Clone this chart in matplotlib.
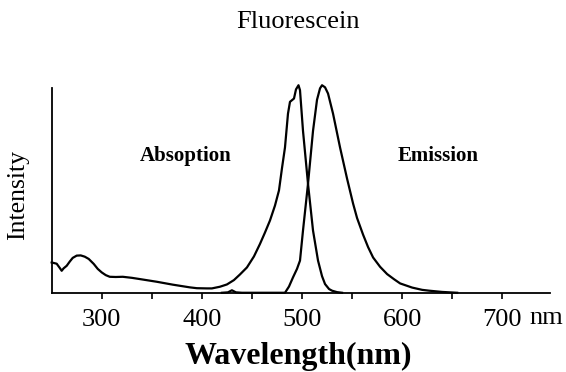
import numpy as np
import matplotlib
matplotlib.use('Agg')
import matplotlib.pyplot as plt
from matplotlib import rcParams

rcParams['font.family'] = 'serif'
rcParams['font.serif'] = ['Liberation Serif', 'DejaVu Serif']

# Spectra (wavelength in nm, relative intensity)
abs_nm = [250, 255, 258, 260, 262, 265, 268, 271, 275, 279, 283, 287, 292, 296,
          300, 304, 308, 314, 321, 330, 338, 355, 371, 388, 395, 405, 410, 418,
          425, 432, 438, 445, 452, 458, 463, 468, 473, 477, 480, 483, 486, 488,
          490, 492, 494, 496.5, 498, 501, 506, 511, 516, 520, 523, 527, 530, 535, 540]
abs_int = [0.146, 0.14, 0.12, 0.106, 0.118, 0.13, 0.15, 0.168, 0.179, 0.18,
           0.174, 0.163, 0.139, 0.115, 0.098, 0.085, 0.077, 0.076, 0.077, 0.072,
           0.066, 0.053, 0.039, 0.026, 0.022, 0.021, 0.021, 0.029, 0.04, 0.061,
           0.088, 0.122, 0.175, 0.235, 0.29, 0.348, 0.42, 0.493, 0.6, 0.70, 0.863,
           0.92, 0.928, 0.936, 0.98, 1.0, 0.976, 0.78, 0.525, 0.30, 0.155, 0.08,
           0.042, 0.018, 0.01, 0.003, 0.0]

em_nm = [420, 426, 430, 434, 440, 483, 487, 491, 495, 498, 501, 506, 511, 515,
         518, 520, 523, 526, 531, 538, 545, 551, 555, 561, 566, 571, 578, 585,
         592, 598, 610, 620, 627, 640, 655]
em_int = [0.0, 0.002, 0.012, 0.002, 0.0, 0.0, 0.03, 0.074, 0.115, 0.155, 0.30,
          0.525, 0.78, 0.93, 0.985, 1.0, 0.99, 0.96, 0.863, 0.70, 0.55, 0.43,
          0.36, 0.28, 0.22, 0.17, 0.125, 0.09, 0.065, 0.045, 0.025, 0.014, 0.01,
          0.004, 0.0]

major_ticks = [300, 400, 500, 600, 700]
major_labels = ['300', '400', '500', '600', '700']
minor_ticks = [350, 450, 550, 650]

fig = plt.figure(figsize=(5.66, 3.72), dpi=100)
ax = fig.add_axes([0.0913, 0.213, 0.881, 0.5495])

ax.plot(abs_nm, abs_int, '-', color='black', linewidth=1.6, clip_on=False,
        solid_joinstyle='round')
ax.plot(em_nm, em_int, '-', color='black', linewidth=1.6, clip_on=False,
        solid_joinstyle='round')

ax.set_xlim(250, 748)
ax.set_ylim(0, 0.985)

for side in ['top', 'right']:
    ax.spines[side].set_visible(False)
for side in ['left', 'bottom']:
    ax.spines[side].set_linewidth(1.3)

ax.set_yticks([])
ax.set_xticks(major_ticks)
ax.set_xticklabels(major_labels)
ax.set_xticks(minor_ticks, minor=True)
ax.tick_params(axis='x', which='both', direction='out', length=4.5, width=1.2, pad=7.5,
               labelsize=19)

ax.text(727, -0.124, 'nm', transform=ax.get_xaxis_transform(), fontsize=19,
        ha='left', va='center')

ax.set_xlabel('Wavelength(nm)', fontsize=23, fontweight='bold')
ax.xaxis.set_label_coords(0.494, -0.31)
ax.xaxis.label.set_va('center')

ax.set_ylabel('Intensity', fontsize=18.5)
ax.yaxis.set_label_coords(-0.0676, 0.478)
ax.yaxis.label.set_va('center')

ax.text(0.494, 1.324, 'Fluorescein', transform=ax.transAxes, fontsize=19,
        ha='center', va='center')

ax.text(384, 0.669, 'Absoption', transform=ax.get_xaxis_transform(), fontsize=15,
        fontweight='bold', ha='center', va='center')
ax.text(636, 0.669, 'Emission', transform=ax.get_xaxis_transform(), fontsize=15,
        fontweight='bold', ha='center', va='center')

plt.savefig('out.png', dpi=100)
